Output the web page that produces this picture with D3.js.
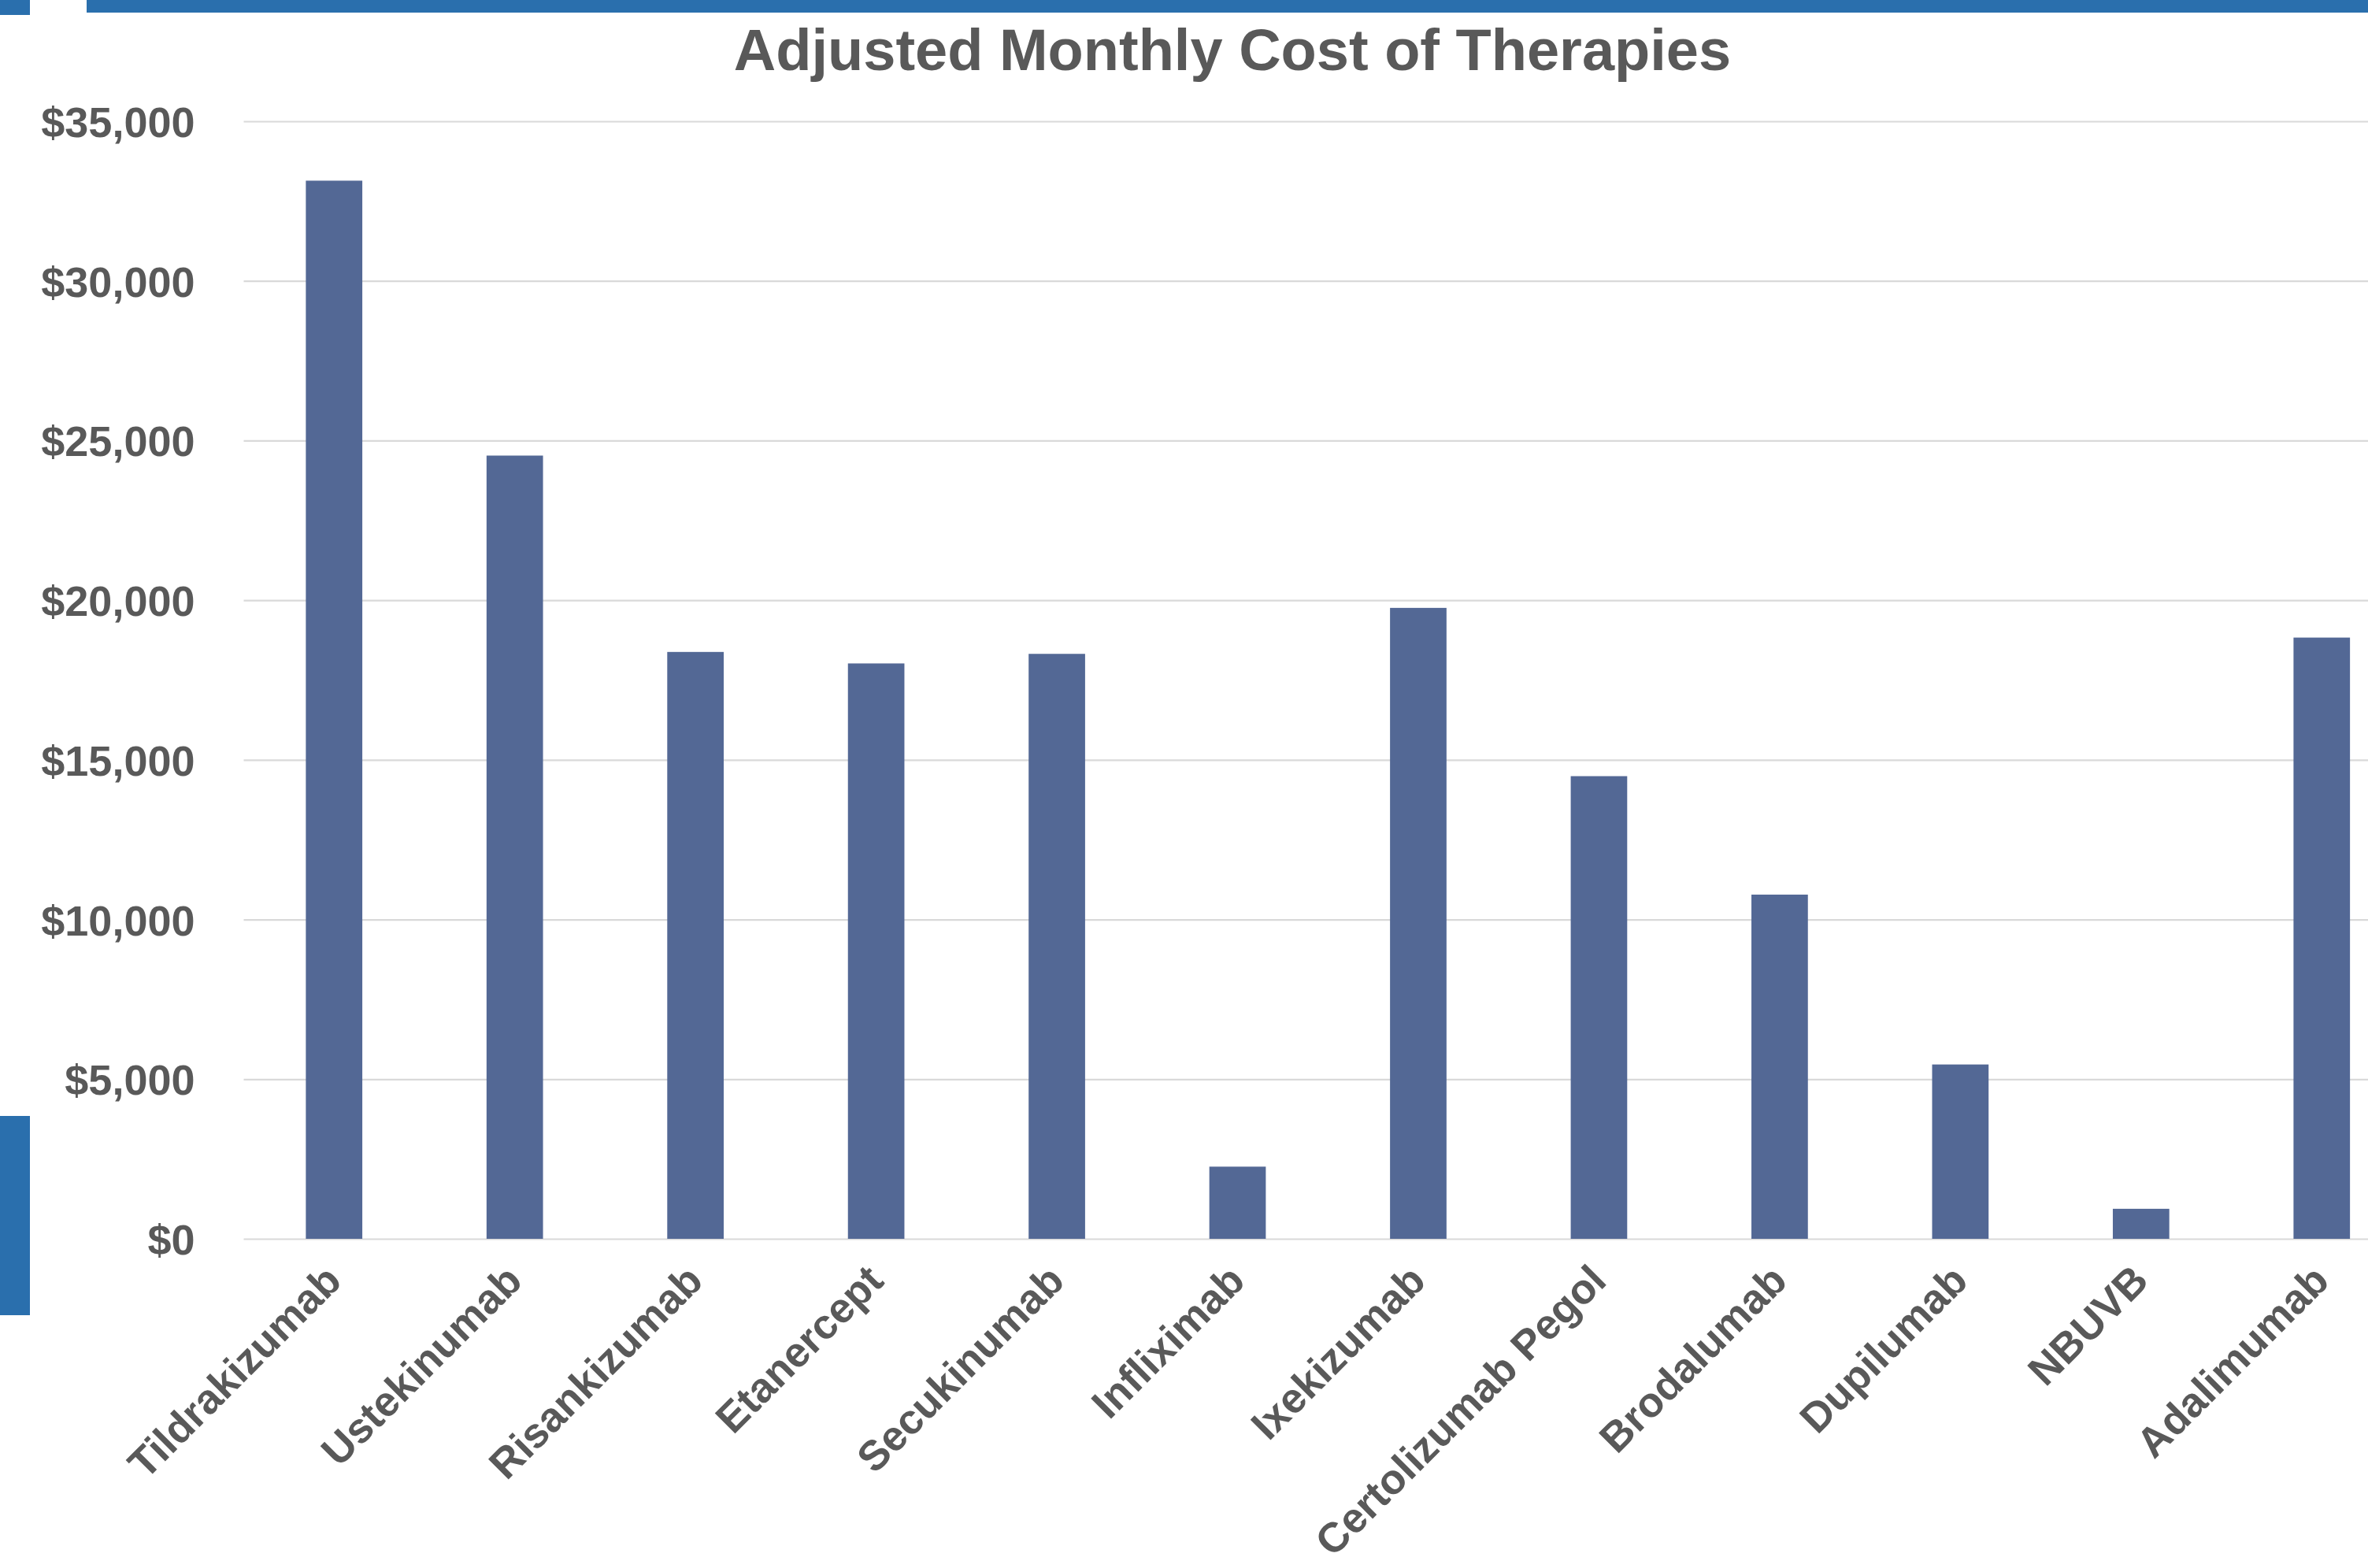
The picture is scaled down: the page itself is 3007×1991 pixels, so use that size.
<!DOCTYPE html>
<html>
<head>
<meta charset="utf-8">
<script src="https://cdn.jsdelivr.net/npm/d3@7"></script>
<style>
  html, body { margin: 0; padding: 0; background: #ffffff; }
  svg { display: block; }
</style>
</head>
<body>
<svg id="chart" width="3007" height="1991"></svg>
<script>
// ---- Data ----
const categories = ["Tildrakizumab", "Ustekinumab", "Risankizumab", "Etanercept", "Secukinumab",
  "Infliximab", "Ixekizumab", "Certolizumab Pegol", "Brodalumab", "Dupilumab", "NBUVB", "Adalimumab"];
const monthlyCost = [33140, 24530, 18380, 18020, 18320, 2260, 19760, 14490, 10780, 5460, 940, 18830];
const yTicks = [0, 5000, 10000, 15000, 20000, 25000, 30000, 35000];
const titleText = "Adjusted Monthly Cost of Therapies";

// ---- Layout ----
const W = 3007, H = 1991;
const plotLeft = 309.5, plotRight = 3063, plotTop = 154, plotBottom = 1573;
const textColor = "#595959";
const barColor = "#536895";
const gridColor = "#d9d9d9";
const accent = "#2a6fad";
const fontFamily = "'Liberation Sans', Arial, sans-serif";

const svg = d3.select("#chart");

// decorative accents
svg.append("rect").attr("x", 0).attr("y", 0).attr("width", 38).attr("height", 19).attr("fill", accent);
svg.append("rect").attr("x", 110).attr("y", 0).attr("width", W - 110).attr("height", 16).attr("fill", accent);
svg.append("rect").attr("x", 0).attr("y", 1417).attr("width", 38).attr("height", 253).attr("fill", accent);

const x = d3.scaleBand()
  .domain(categories)
  .range([plotLeft, plotRight])
  .paddingInner(0.6875)
  .paddingOuter(0.34375);

const y = d3.scaleLinear()
  .domain([0, 35000])
  .range([plotBottom, plotTop]);

// gridlines + y labels
const yAxis = d3.axisLeft(y)
  .tickValues(yTicks)
  .tickSize(-(plotRight - plotLeft))
  .tickPadding(62)
  .tickFormat(d => "$" + d3.format(",")(d));

const gy = svg.append("g")
  .attr("transform", `translate(${plotLeft},0)`)
  .call(yAxis);
gy.select(".domain").remove();
gy.selectAll(".tick line")
  .attr("stroke", gridColor)
  .attr("stroke-width", 2.2);
gy.selectAll(".tick text")
  .attr("fill", textColor)
  .attr("font-family", fontFamily)
  .attr("font-weight", "bold")
  .attr("font-size", 54)
  .attr("dy", "0.36em");

// bars
svg.append("g")
  .selectAll("rect")
  .data(categories.map((c, i) => ({ c, v: monthlyCost[i] })))
  .join("rect")
  .attr("x", d => x(d.c))
  .attr("y", d => y(d.v))
  .attr("width", x.bandwidth())
  .attr("height", d => y(0) - y(d.v))
  .attr("fill", barColor);

// x labels
const xAxis = d3.axisBottom(x).tickSize(0);
const gx = svg.append("g")
  .attr("transform", `translate(0,${plotBottom})`)
  .call(xAxis);
gx.select(".domain").remove();
gx.selectAll(".tick text")
  .attr("fill", textColor)
  .attr("font-family", fontFamily)
  .attr("font-weight", "bold")
  .attr("font-size", 53)
  .attr("text-anchor", "end")
  .attr("x", 0)
  .attr("y", 0)
  .attr("dy", 0)
  .attr("transform", "translate(12,56) rotate(-45)");

// title
svg.append("text")
  .attr("x", 1565)
  .attr("y", 89)
  .attr("text-anchor", "middle")
  .attr("fill", textColor)
  .attr("font-family", fontFamily)
  .attr("font-weight", "bold")
  .attr("font-size", 74)
  .text(titleText);
</script>
</body>
</html>
